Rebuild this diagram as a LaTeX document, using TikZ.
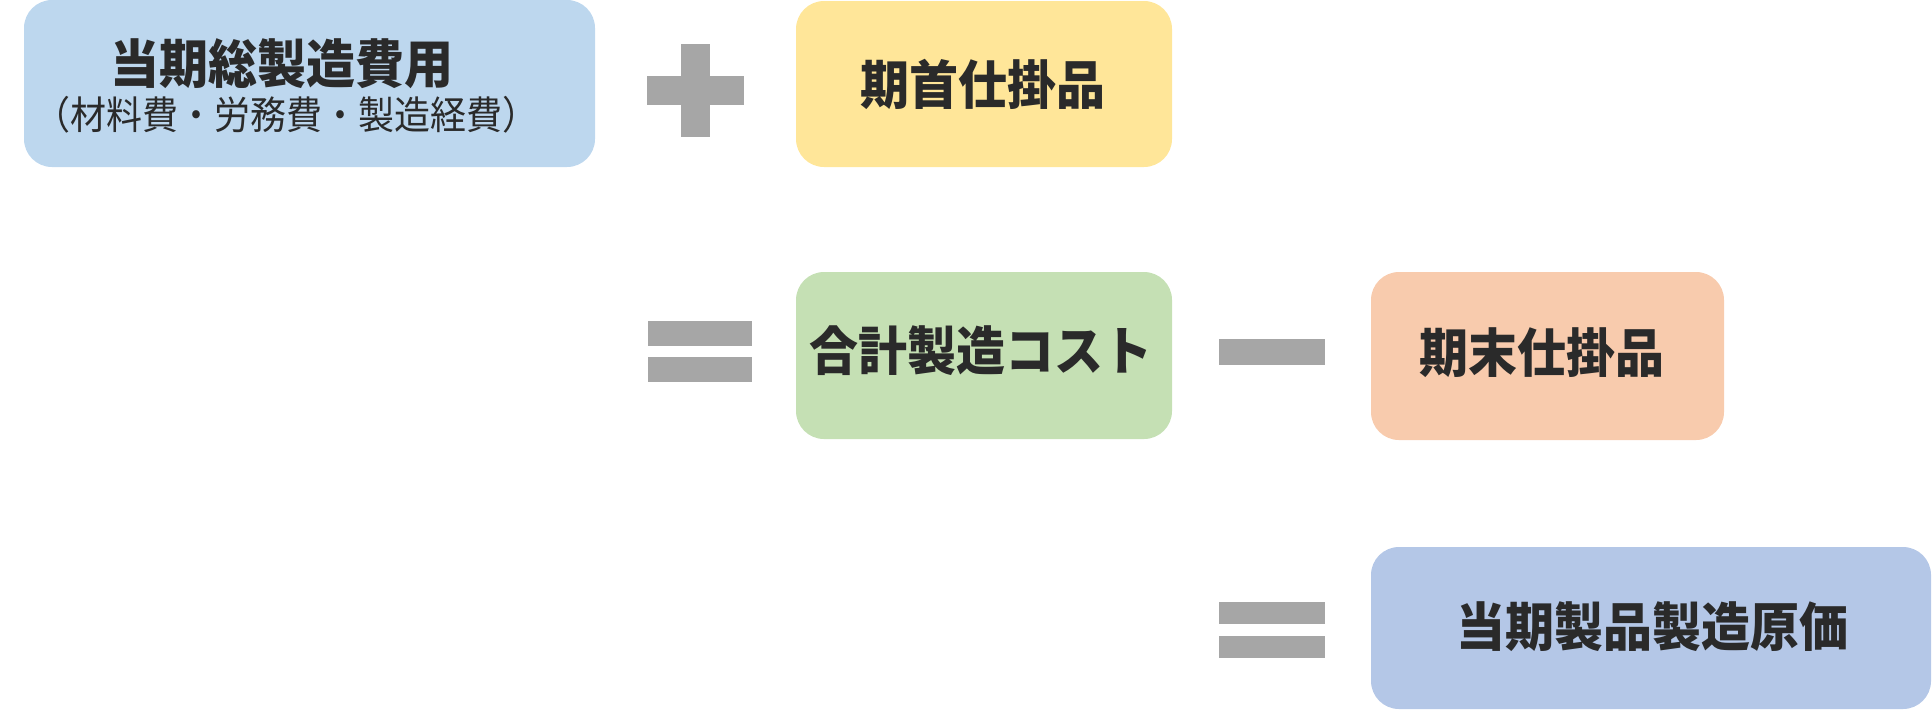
\documentclass[tikz,border=0pt]{standalone}
\usepackage{graphicx}
\usepackage{fontspec}
\setmainfont{Noto Sans CJK JP}
\definecolor{cblue}{HTML}{BDD7EE}
\definecolor{cyellow}{HTML}{FFE699}
\definecolor{cgreen}{HTML}{C5E0B4}
\definecolor{corange}{HTML}{F8CBAD}
\definecolor{cblue2}{HTML}{B4C7E7}
\definecolor{opgray}{HTML}{A6A6A6}
\definecolor{txt}{HTML}{2A2A2A}
\newcommand{\headtext}[1]{\scalebox{1}[1.07]{\fontsize{24.5pt}{28pt}\selectfont\bfseries #1}}
\newcommand{\subtext}[1]{\scalebox{1}[1.08]{\fontsize{18pt}{22pt}\selectfont #1}}
\begin{document}
\begin{tikzpicture}[x=0.5pt,y=-0.5pt,
  box/.style={draw=none,rounded corners=14pt,inner sep=0pt,rectangle},
  head/.style={inner sep=0pt,text=txt,text height=22pt,text depth=1.6pt},
  sub/.style={inner sep=0pt,text=txt,text height=16.3pt,text depth=1.2pt},
  op/.style={fill=opgray}]
\useasboundingbox (0,0) rectangle (1932,709);
% boxes
\node[box,fill=cblue,minimum width=285.5pt,minimum height=83.5pt] (b1) at (309.5,83.5) {};
\node[box,fill=cyellow,minimum width=188pt,minimum height=83pt] (b2) at (984,84) {};
\node[box,fill=cgreen,minimum width=188pt,minimum height=83.5pt] (b3) at (984,355.5) {};
\node[box,fill=corange,minimum width=176.5pt,minimum height=84pt] (b4) at (1547.5,356) {};
\node[box,fill=cblue2,minimum width=280pt,minimum height=81pt] (b5) at (1651,628) {};
% texts
\node[head] (t1) at (282,63.5) {\headtext{当期総製造費用}};
\node[sub] (t1s) at (286,114.5) {\subtext{（材料費・労務費・製造経費）}};
\node[head] (t2) at (983,84.5) {\headtext{期首仕掛品}};
\node[head] (t3) at (980.5,350) {\headtext{合計製造コスト}};
\node[head] (t4) at (1541.5,352.5) {\headtext{期末仕掛品}};
\node[head] (t5) at (1652.5,626.5) {\headtext{当期製品製造原価}};
% operators
\fill[op] (647,76) rectangle (744,105);
\fill[op] (681,44) rectangle (710,137);
\fill[op] (648,321) rectangle (752,346);
\fill[op] (648,357) rectangle (752,382);
\fill[op] (1219,339) rectangle (1325,365);
\fill[op] (1219,602) rectangle (1325,624);
\fill[op] (1219,636) rectangle (1325,658);
\end{tikzpicture}
\end{document}
